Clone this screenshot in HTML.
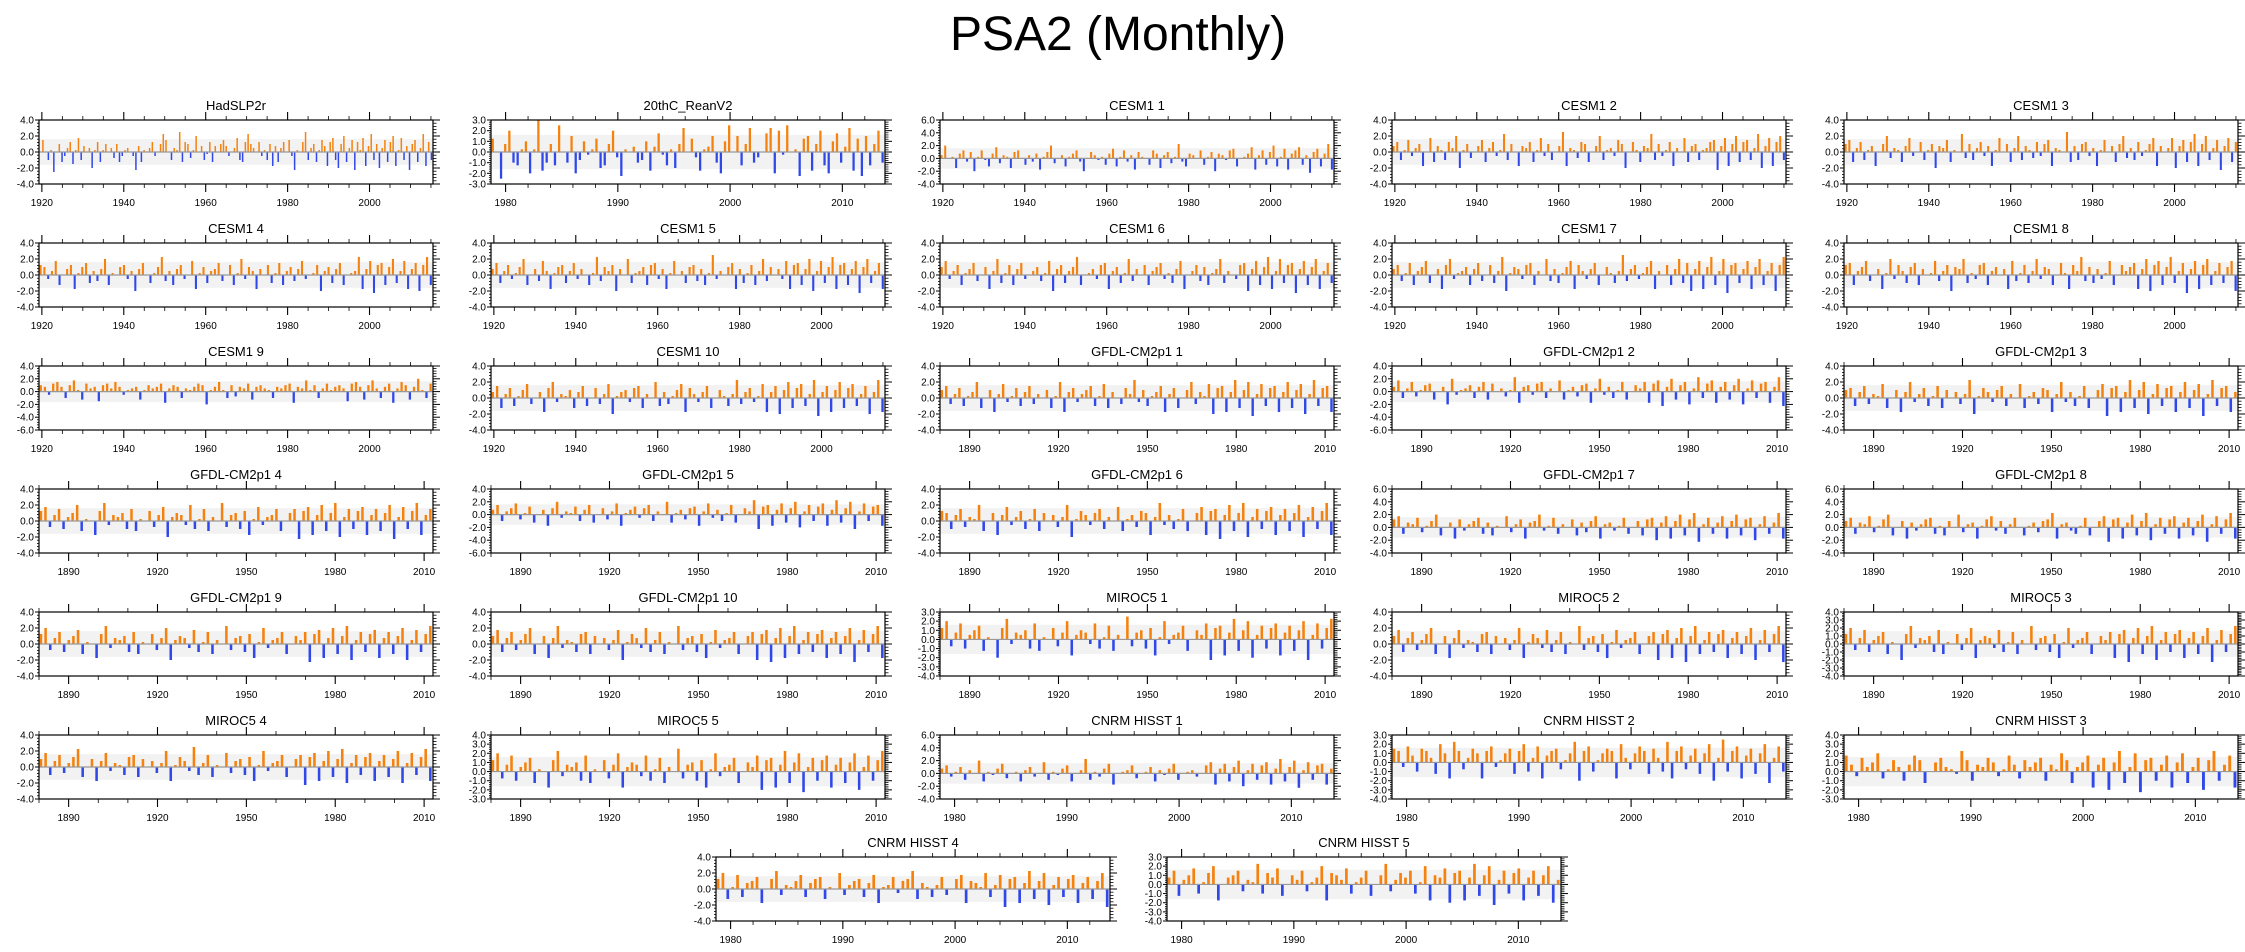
<!DOCTYPE html>
<html><head><meta charset="utf-8"><style>
html,body{margin:0;padding:0;background:#fff;}
svg{display:block;font-family:"Liberation Sans",Arial,sans-serif;}
</style></head><body>
<svg id="fig" width="2245" height="952" viewBox="0 0 2245 952" xmlns="http://www.w3.org/2000/svg">
<text x="1118" y="50" font-size="48" text-anchor="middle" fill="#000">PSA2 (Monthly)</text>
<g id="panels"></g>
</svg>
<script>
const titles = ["HadSLP2r","20thC_ReanV2","CESM1 1","CESM1 2","CESM1 3",
"CESM1 4","CESM1 5","CESM1 6","CESM1 7","CESM1 8",
"CESM1 9","CESM1 10","GFDL-CM2p1 1","GFDL-CM2p1 2","GFDL-CM2p1 3",
"GFDL-CM2p1 4","GFDL-CM2p1 5","GFDL-CM2p1 6","GFDL-CM2p1 7","GFDL-CM2p1 8",
"GFDL-CM2p1 9","GFDL-CM2p1 10","MIROC5 1","MIROC5 2","MIROC5 3",
"MIROC5 4","MIROC5 5","CNRM HISST 1","CNRM HISST 2","CNRM HISST 3",
"CNRM HISST 4","CNRM HISST 5"];
const yMins = [-4,-3,-4,-4,-4, -4,-4,-4,-4,-4, -6,-4,-4,-6,-4, -4,-6,-4,-4,-4, -4,-4,-4,-4,-4, -4,-3,-4,-4,-3, -4,-4];
const yMaxs = [4,3,6,4,4, 4,4,4,4,4, 4,4,4,4,4, 4,4,4,6,6, 4,4,3,4,4, 4,4,6,3,4, 4,3];
const ySteps = [2,1,2,2,2, 2,2,2,2,2, 2,2,2,2,2, 2,2,2,2,2, 2,2,1,2,1, 2,1,2,1,1, 2,1];
const xTypes = "CRCCCCCCCCCCGGGGGGGGGGGGGGGRRRRR";
const xRanges = {C:[1919.3,2015.5], R:[1978.7,2013.8], G:[1880,2013]};
const xMajor = {C:[1920,1940,1960,1980,2000], R:[1980,1990,2000,2010], G:[1890,1920,1950,1980,2010]};
const xMinorStep = {C:5, R:2, G:10};
// series: each char encodes a value (index-20)*0.25, 'U' = 0
const series = [
"UaUQVKUYPSWZOVbQXUWMVZPVYUWRYPSVWUSLXPVUWZSUYdaUQWVePZYRVcUXQTZPXUYaXSUWbQPZdYWUZSVQYNXPWZUaSLVUZeQWYPVaXNZbQMYcPWaLZVbNXdQYMWaPZcNVbQXLYaPWdNZQ",
"ZUKXcQPVYMVgNQXPeUQaMRYTVZOPXcSLVUWQRYNWbTPVOXdUZSNVWaQMYeUaPXdQSUbdMcTeUVLZaNXcPMYbQWdNZLaPXcQ",
"WcUVOXZSYMVZTPXbRWVOYZUQWSXNVYcRUWPVXZSMUYWTVQXaPVZSWNYVUQZXOWYRVdSPXWUZQVYMXWTZaPUVXbNWZQYcPVaNXZbQWLYaPXdN",
"XZQVaSWYNUbPXVQZWcMVYRUXaPWZSVdQYUNXWZPVbSYQUXeNWVRZYPUXcQVWSaYMUZVPXWdQYSVZNWUbPXYQVWZaLXbNYcPZaQWdMXbNZcQ",
"YaPWZQVXNUYcRWVPXbSUZQVYMXWaPVUdRYQWZSXNVbUYPWcQXVRZSYaNWVUePXQYZSWNVaUXPYcRWQZSVYbNXUWbMXaPZdNYcQWaLXbPZ",
"ZYSWbPUXZNVYaQWRXcPVUYZSWMXaUQVYdRWPXZSUbNVYQWXaRUZPVcSYWNXUZQVaPWYRXbSUVZMWYQXaPUVWdNXbLZaPYcQWbNXaMZdP",
"XaQWZSVYcPUXRbWNVYZQWaSXUPVdRYWZMXUcQVWYPZaSXNVbUWQYZRXPVeSWUYaNXQVZPWcRYUXSbNZaPXcMWbQYdNZaPXbLYcQWaN",
"YbSWZPVXaRUYNWcQVZPXaSUWYRVbMXZQWYdPUVXSZaNWYQVcRXUZPWYaSVQXbNUWZRYPVXcQWUSZaMXbPYdNWcQZaLXbPYcNWaQ",
"XZRVaPWYbQUXNZcSVWYPXaRUZQWdMVYXSZaPWUcRXQVYbNZWSXaPUYVQWeRXZSVYbNWUZPXcQaMXbNYdPWcLZaQXbNYcPWaMZd",
"ZaPWYbRUXNVcSZWQYaPXUVbRWZMYXcQVSZaPWYUXNbRVZQWcSYXPUaVNZWdRYQXSVbPUZWYaNXcMZbPYdQWaLXbNZcPWaQYbM",
"YXSZaXQYbVPZWXOYZWaXSVWXPVYWXZNWYXQWVXZYMVXaVQYRXWZPXYWVQXWYZNXWbVYQWZVXYWOZaXPYbWQXZNWaYPXcVQZ",
"XaPWZQVYbRUXNZcSWVYPXaQUZRWbMVXYSZaPWUcQXRVYbNZWSXaPUYVQWdRXZSVbNXaMYcPZbQWdLXaNYcPZbQWaMXdN",
"YaRWZQVXcPUYNWbSVZQXaRWUYPVcNXZSWYaQVbPXURZWdSYQVXaNWZPUYcRXVbMZaNXdPYcLWbQZaNXcPYbMWdQZaN",
"XbQWaRVYZPUXMcSVWYQXaPZUWRVdNXYSZaQWUbPVXRYZNWcSXQVaPUYWaNZbLXcPYaMWdQZbNXaPYcMWbQZaNXdL",
"YZQXaRWVbPUYNXcSWZQVaPYUXRWdMVZXSYaQWUbPVXRZYNWcSXQVaPUYbLZaNXdPYcMWbQZaNXcPYbLWdQZaNX",
"ZbRXaQWYcPVUNZdSXWYQaPVUZRXbMWYXScQVaPWUdRXYQZNVbSWXaPUYaLZbNXcPYdMWaQZbNXaPYcLWbQZdNXa",
"XaQWYbRVZPUXNYcSWVZQXaPUYRWbNVXZSYaQWUcPVXRYZNWbSXQVaPUYWdLZaNXbPYcMWaQZbNXdPYcLWbQZaN",
"ZYQXaRWVcPUYNXbSWZQVaPYUXRWcMVZXSYaQWUbPVXRZYNWdSXQVaPUYbNZaLXcPYdMWaQZbNXaPYcMWbQZdN",
"ZbQXWaRVYcPUXNZSWYaQXPVUbRWZNXYcSVaQWUZPXRYbNWXSVaQUYPZaMXbNYcPZdLWaQXbNYcPZaMWbQXdN",
"YaQXWbRVZcPUYNXSWZaQVPYUcRWXNVZbSYQWaUPVXRYZdNWXSQVaPUYbLZaNXcPYdMWaQZbNXaPYcLWbQZdN",
"ZcRXaQWYbPVUNZdSXWYQaPVUZRXcMWYXSbQVaPWUdRXYQZNVcSWXaPUYWaLZbNXcPYdMWaQZbNXaPYcMWbQZd",
"YbQXaRWZcPUYNXdSWVQZaPYUXRWbMVZXScQWaPVUdRXYQZNVbSWXaPUYaMZbLXcNYdPWaQZbNXaPYcLWbQZdN",
"ZcRXbQWYaPVUMZdSXWYQbPVUZRXcNWYXSbQVaPWUeRXYQZNVcSWXaPUYWbLZaNXdPYcMWaQZbNXaPYcLWbQZd",
"YbQXaRWZcPUYNXbSWVQZaPYUXRWcNVZXSbQWaPVUdRXYQZNVbSWXaPUYaMZbNXcLYdPWaQZbNXaPYcMWbQZdL",
"ZcRXbQWYaPVUMZdSXWYQbPVUZRXcNWYXSbQVaPWUdRXYQZNVcSWXaPUYWaNZbLXcPYdMWaQZbNXaPYcLWbQZd",
"YbQXaRWZdPUYNXbSWVQZaPYUXRWcNVZXSeQWaPVUbRXYQZNVcSWXaPUYaLZbNXcPYdMWaQZbNXaPYcMWbQZdN",
"ZcRXbQWYaPVUNZdSXWYQbPVUZRXcNWYXSbQVaPWUeRXYQZNVcSWXaPUYWbMZaNXdPYcLWaQZbNXaPYcMWbQZd",
"XZSVYQWUcPVTXaRUVPWYSUbQVTXZPUWdQVSXaNUVWZRUVYPWTXaQUVWSUZbNXaPYcMWaQZbNXdPYcLWbQZaNX",
"aZSbXQaZWPcYNdZRWaYNZbSVYaPZcQWbNXZaRVYdMZbQVYaZNcWRYbZPaWQdNZbRXaPYcMWeQZbNXaPYcLWbQ",
"bXSaWYcRVZWQXbZPUYaWVTdZQXWaYSVbXRZWYaQXVcZPWYbNXaMYdPWcLZaQXbNYcPWaMZdQXbN",
"ZcPVbQXYaNUZdRWVYbQXZaPVUcRWYZQXbNVWaSYZdPXVQWaRUZbNYXVcQWbLZaNXdPYcMWaQZbNXaPYcL",
"XaPWYbQVZcNUXYaRWVdQZXbPUYWaRVXcNZYWbQVXaPUYdRWZXaQVcNYXbMZaNXdPYcLWaQZbNXaPYcMW"
];
const colLeft = [39,491,940,1392,1844];
const rowTop = [120,243,366,489,612,735];
const W = 394, H = 64;
const NS = "http://www.w3.org/2000/svg";
const root = document.getElementById('panels');
function mk(tag, attrs, parent){
  const e = document.createElementNS(NS, tag);
  for (const k in attrs) e.setAttribute(k, attrs[k]);
  parent.appendChild(e); return e;
}
function decode(s){ const A="ABCDEFGHIJKLMNOPQRSTUVWXYZabcdefghijklmnop"; return s.split('').map(c=>(A.indexOf(c)-20)*0.25); }
function fmt(v){ return v.toFixed(1); }

for (let p=0; p<titles.length; p++){
  let x0, y0;
  if (p < 30){ x0 = colLeft[p%5]; y0 = rowTop[Math.floor(p/5)]; }
  else { x0 = p===30 ? 716 : 1167; y0 = 857; }
  const g = mk('g', {}, root);
  
  
  const ymin=yMins[p], ymax=yMaxs[p], ystep=ySteps[p];
  const yS = v => y0 + H - (v-ymin)/(ymax-ymin)*H;
  const t = xTypes[p]; const xr = xRanges[t];
  const zy = yS(0);
  // faint gray ensemble spread
  const band = mk('rect', {x:x0, y:yS(1.6), width:W, height:yS(-1.6)-yS(1.6), fill:'#ececec', opacity:0.7}, g);
  
  
  const vals = decode(series[p]);
  const bw = W/vals.length;
  const bars = mk('g', {}, g);
  
  
  vals.forEach((v,i)=>{
    if (v===0) return;
    const y1 = yS(v);
    const r = mk('rect', {x:(x0+i*bw+bw*0.15).toFixed(2), y:Math.min(y1,zy).toFixed(2), width:(bw*0.55).toFixed(2), height:Math.abs(zy-y1).toFixed(2), fill: v>0?'#f5820f':'#3048ea'}, bars);
    
    
  });
  const zl = mk('line', {x1:x0, x2:x0+W, y1:zy, y2:zy, stroke:'#999', 'stroke-width':1.2}, g);
  
  
  const fr = mk('rect', {x:x0, y:y0, width:W, height:H, fill:'none', stroke:'#000', 'stroke-width':1.2}, g);
  
  
  const ya = mk('g', {}, g);
  
  
  for (let v=ymin; v<=ymax+1e-6; v+=ystep){
    const yy = yS(v);
    mk('line', {x1:x0-4, x2:x0, y1:yy, y2:yy, stroke:'#000'}, ya);
    mk('line', {x1:x0+W, x2:x0+W+7, y1:yy, y2:yy, stroke:'#000'}, ya);
    const lb = mk('text', {x:x0-5, y:yy+3.5, 'font-size':10, 'text-anchor':'end'}, ya);
    lb.textContent = fmt(v);
    
    
    if (v+ystep <= ymax+1e-6) for (let k=1;k<5;k++){
      const ym = yS(v+ystep*k/5);
      mk('line', {x1:x0+W, x2:x0+W+3.5, y1:ym, y2:ym, stroke:'#000', 'stroke-width':0.8}, ya);
      mk('line', {x1:x0-2, x2:x0, y1:ym, y2:ym, stroke:'#000', 'stroke-width':0.8}, ya);
    }
  }
  const xS = yr => x0 + (yr-xr[0])/(xr[1]-xr[0])*W;
  const xa = mk('g', {}, g);
  
  
  const ms = xMinorStep[t];
  for (let yr=Math.ceil(xr[0]/ms)*ms; yr<=xr[1]; yr+=ms){
    const xx = xS(yr);
    const major = xMajor[t].includes(yr);
    const L = major ? 8 : 4;
    mk('line', {x1:xx, x2:xx, y1:y0-L, y2:y0, stroke:'#000', 'stroke-width':major?1.1:0.8}, xa);
    mk('line', {x1:xx, x2:xx, y1:y0+H, y2:y0+H+L, stroke:'#000', 'stroke-width':major?1.1:0.8}, xa);
    if (major){
      const lb = mk('text', {x:xx, y:y0+H+22, 'font-size':10, 'text-anchor':'middle'}, xa);
      lb.textContent = yr;
      
      
    }
  }
  const tt = mk('text', {x:x0+W/2, y:y0-10, 'font-size':13, 'text-anchor':'middle'}, g);
  tt.textContent = titles[p];
  
  
}
</script>
</body></html>
